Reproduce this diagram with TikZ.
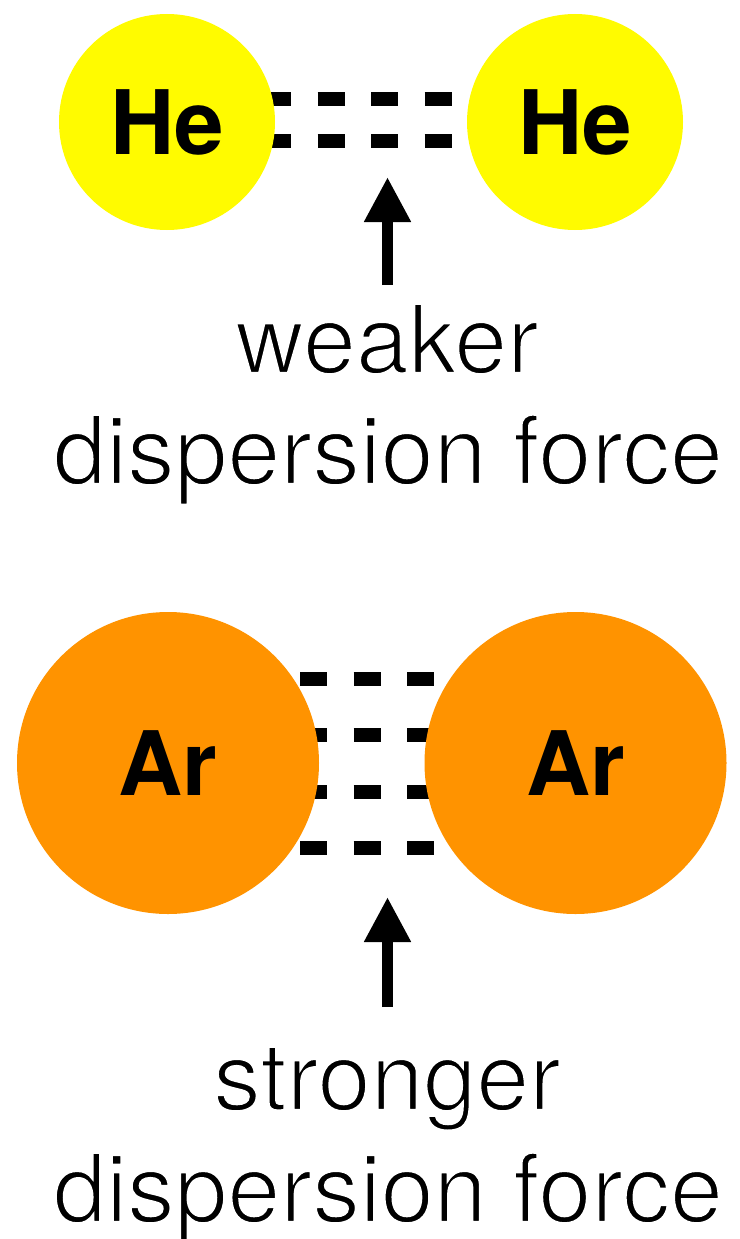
\documentclass[tikz,border=0pt]{standalone}
\usepackage{fontspec}
\setmainfont{TeX Gyre Heros}
\usetikzlibrary{arrows.meta}
\definecolor{heyellow}{RGB}{255,251,0}
\definecolor{arorange}{RGB}{255,147,0}
\newcommand\thintext[1]{\special{pdf:code 1 1 1 RG 2 Tr 2.4 w}#1\special{pdf:code 0 Tr 0 0 0 RG 0.4 w}}
\tikzset{
  atom/.style={circle, inner sep=0pt, minimum size=#1, draw=none},
  atomlabel/.style={font=\fontsize{89}{89}\selectfont\bfseries, text=black},
  bond/.style={line width=14pt, dash pattern=on 27pt off 26.5pt, line cap=butt},
  uparrow/.style={line width=11pt, -{Triangle[width=44pt,length=45pt]}},
  caption/.style={font=\fontsize{95}{95}\selectfont, anchor=base, inner sep=0pt}
}
\begin{document}
\begin{tikzpicture}[x=1pt,y=-1pt]
\useasboundingbox (0,0) rectangle (739,1239);
% He dispersion dashes
\foreach \yy in {99,141} \draw[bond] (264,\yy) -- (452,\yy);
\node[atom=216pt, fill=heyellow] (heL) at (167,122) {};
\node[atom=216pt, fill=heyellow] (heR) at (575,122) {};
\node[atomlabel] at (heL) {He};
\node[atomlabel] at (heR) {He};
% Ar dispersion dashes
\foreach \yy in {679,735,792,848} \draw[bond] (300,\yy) -- (434,\yy);
\node[atom=302pt, fill=arorange] (arL) at (168,763) {};
\node[atom=302pt, fill=arorange] (arR) at (575.5,763) {};
\node[atomlabel] at (arL) {Ar};
\node[atomlabel] at (arR) {Ar};
% captions
\node[caption] (weak1) at (387,373) {\thintext{weaker}};
\node[caption] (weak2) at (388,484) {\thintext{dispersion force}};
\node[caption] (strong1) at (387,1110) {\thintext{stronger}};
\node[caption] (strong2) at (388,1222) {\thintext{dispersion force}};
% arrows
\coordinate (heTip) at (387.5,177);
\coordinate (arTip) at (387.5,897);
\draw[uparrow] (387.5,285) -- (heTip);
\draw[uparrow] (387.5,1007) -- (arTip);
\end{tikzpicture}
\end{document}
